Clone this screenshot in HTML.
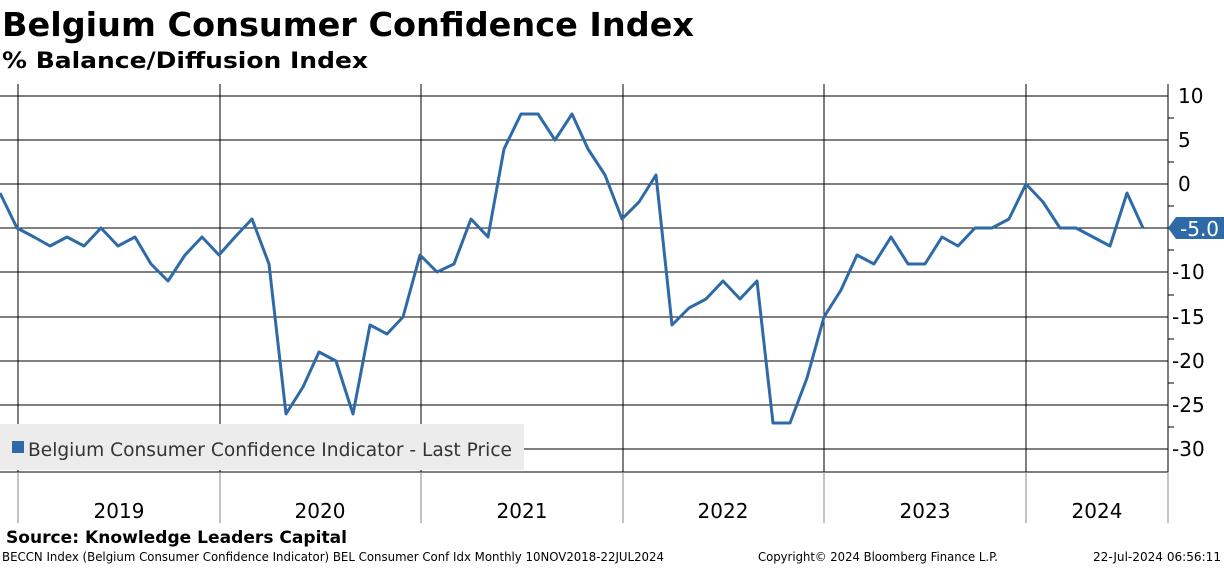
<!DOCTYPE html>
<html><head><meta charset="utf-8"><style>
body{margin:0;background:#fff;font-family:"Liberation Sans",sans-serif;}
</style></head><body>
<svg width="1224" height="566" xmlns="http://www.w3.org/2000/svg" font-family="DejaVu Sans, sans-serif">
<text x="2" y="36" font-size="33" font-weight="bold" fill="#000" textLength="692" lengthAdjust="spacingAndGlyphs">Belgium Consumer Confidence Index</text>
<text x="2" y="68" font-size="22" font-weight="bold" fill="#000" textLength="366" lengthAdjust="spacingAndGlyphs">% Balance/Diffusion Index</text>
<g stroke="#000" stroke-width="1">
<line x1="0" y1="96" x2="1168" y2="96"/>
<line x1="0" y1="140" x2="1168" y2="140"/>
<line x1="0" y1="184" x2="1168" y2="184"/>
<line x1="0" y1="228" x2="1168" y2="228"/>
<line x1="0" y1="272" x2="1168" y2="272"/>
<line x1="0" y1="317" x2="1168" y2="317"/>
<line x1="0" y1="361" x2="1168" y2="361"/>
<line x1="0" y1="405" x2="1168" y2="405"/>
<line x1="0" y1="449" x2="1168" y2="449"/>
<line x1="0" y1="472" x2="1168" y2="472"/>
<line x1="18" y1="84" x2="18" y2="472"/>
<line x1="220" y1="84" x2="220" y2="472"/>
<line x1="421" y1="84" x2="421" y2="472"/>
<line x1="623" y1="84" x2="623" y2="472"/>
<line x1="824" y1="84" x2="824" y2="472"/>
<line x1="1026" y1="84" x2="1026" y2="472"/>
<line x1="1168" y1="84" x2="1168" y2="472"/>
</g>
<g stroke="#888" stroke-width="1">
<line x1="18" y1="472" x2="18" y2="523"/><line x1="220" y1="472" x2="220" y2="523"/><line x1="421" y1="472" x2="421" y2="523"/><line x1="623" y1="472" x2="623" y2="523"/><line x1="824" y1="472" x2="824" y2="523"/><line x1="1026" y1="472" x2="1026" y2="523"/><line x1="1168" y1="472" x2="1168" y2="523"/>
</g>
<g font-size="20" fill="#000" text-anchor="middle">
<text x="119" y="518">2019</text><text x="320" y="518">2020</text><text x="522" y="518">2021</text><text x="723" y="518">2022</text><text x="925" y="518">2023</text><text x="1097" y="518">2024</text>
</g>
<g font-size="20" fill="#000">
<text x="1178" y="103">10</text><text x="1178" y="147">5</text><text x="1178" y="191">0</text><text x="1172" y="279">-10</text><text x="1172" y="324">-15</text><text x="1172" y="368">-20</text><text x="1172" y="412">-25</text><text x="1172" y="456">-30</text>
</g>
<g fill="#000"><path d="M1168 118h6M1168 162h6M1168 206h6M1168 250h6M1168 295h6M1168 339h6M1168 383h6M1168 427h6" stroke="#000"/></g>
<rect x="0" y="424" width="524" height="46" fill="#ececec"/>
<rect x="12" y="441" width="12" height="12" fill="#2e6aa8"/>
<text x="28" y="456" font-size="19" fill="#333" textLength="484" lengthAdjust="spacingAndGlyphs">Belgium Consumer Confidence Indicator - Last Price</text>
<polyline fill="none" stroke="#2e6aa8" stroke-width="3" stroke-linejoin="round" points="0,193 17,228 34,237 50,246 67,237 84,246 101,228 118,246 135,237 151,264 168,281 185,255 202,237 219,255 235,237 252,219 269,264 286,414 303,387 319,352 336,361 353,414 370,325 387,334 403,317 420,255 437,272 454,264 471,219 488,237 504,149 521,114 538,114 555,140 572,114 588,149 605,175 622,219 639,202 656,175 672,325 689,308 706,299 723,281 740,299 757,281 773,423 790,423 807,378 824,317 841,290 857,255 874,264 891,237 908,264 925,264 942,237 958,246 975,228 992,228 1009,219 1026,184 1043,202 1060,228 1076,228 1093,237 1110,246 1127,193 1143,228"/>
<path d="M1168 228 L1176 217 L1224 217 L1224 239 L1176 239 Z" fill="#2e6aa8"/>
<text x="1180" y="236" font-size="20" fill="#fff">-5.0</text>
<text x="6" y="543" font-size="17" font-weight="bold" fill="#000" textLength="341" lengthAdjust="spacingAndGlyphs">Source: Knowledge Leaders Capital</text>
<text x="2" y="561" font-size="12" fill="#000" textLength="662" lengthAdjust="spacingAndGlyphs">BECCN Index (Belgium Consumer Confidence Indicator) BEL Consumer Conf Idx  Monthly 10NOV2018-22JUL2024</text>
<text x="758" y="561" font-size="12" fill="#000" textLength="240" lengthAdjust="spacingAndGlyphs">Copyright© 2024 Bloomberg Finance L.P.</text>
<text x="1093" y="561" font-size="12" fill="#000" textLength="128" lengthAdjust="spacingAndGlyphs">22-Jul-2024 06:56:11</text>
</svg>
</body></html>
